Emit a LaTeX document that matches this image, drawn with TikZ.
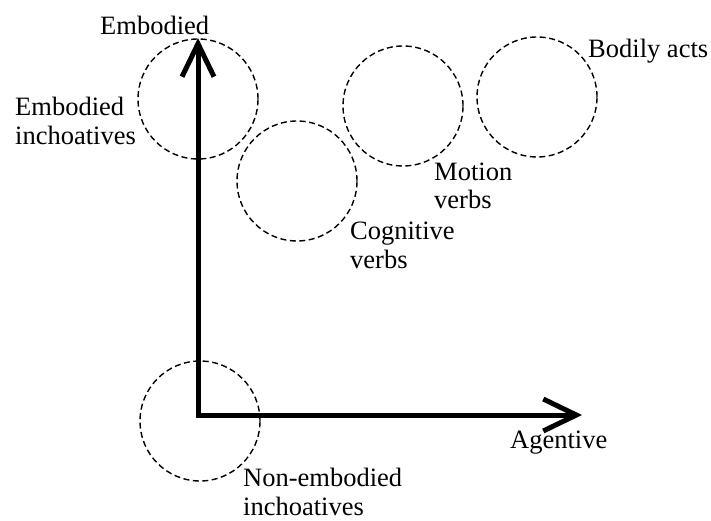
\documentclass[tikz,border=0pt]{standalone}
\usepackage{fontspec}
\setmainfont{Liberation Serif}
\usetikzlibrary{arrows.meta}
\begin{document}
\begin{tikzpicture}[x=1pt, y=1pt,
  area/.style={draw, circle, dash pattern=on 6pt off 3.5pt, line width=1.4pt, minimum size=120pt, inner sep=0pt},
  lab/.style={anchor=base west, align=left, inner sep=0pt, font=\fontsize{26.5}{29}\selectfont},
  axis/.style={line width=5pt, {Straight Barb[length=33pt, width=32pt]}-{Straight Barb[length=33pt, width=32pt]}}]
\useasboundingbox (0,0) rectangle (711,520);
\node[area] (1) at (198,421) {};
\node[area] (2) at (297,339) {};
\node[area] (3) at (403,414) {};
\node[area] (4) at (537,423) {};
\node[area] (5) at (200,99) {};
\coordinate (o) at (198,105);
\coordinate (up) at (198,482);
\coordinate (right) at (582,105);
\path[draw, axis] (up) -- (o) -- (right);
% labels of two lines sit on the baseline of their last line
\node[lab] (l0) at (100,485) {Embodied};
\node[lab] (l1) at (15,375) {Embodied\\inchoatives};
\node[lab] (l2) at (350,252) {Cognitive\\verbs};
\node[lab] (l3) at (434,311) {Motion\\verbs};
\node[lab] (l4) at (588,462) {Bodily acts};
\node[lab] (l5) at (510,72) {Agentive};
\node[lab] (l6) at (243,5) {Non-embodied\\inchoatives};
\end{tikzpicture}
\end{document}
